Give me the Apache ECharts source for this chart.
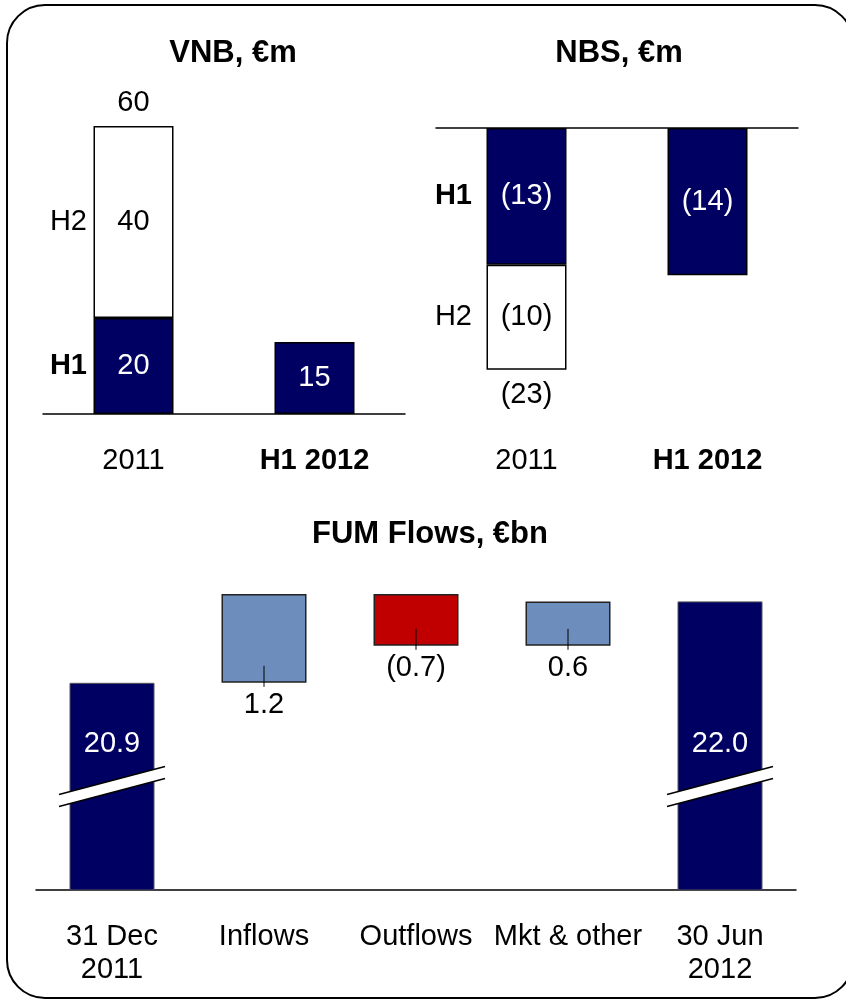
<!DOCTYPE html>
<html>
<head>
<meta charset="utf-8">
<script src="https://cdn.jsdelivr.net/npm/echarts@6/dist/echarts.min.js"></script>
<style>
  html, body { margin: 0; padding: 0; background: #fff; }
  #chart { width: 846px; height: 1000px; }
</style>
</head>
<body>
<div id="chart"></div>
<script>
// VNB, €m
var vnbCats = ['2011', 'H1 2012'];
var vnbH1 = [20, 15];
var vnbH2 = [40, '-'];
var vnbTotal = [60, '-'];

// NBS, €m
var nbsCats = ['2011', 'H1 2012'];
var nbsH1 = [-13, -14];
var nbsH2 = [-10, '-'];
var nbsTotal = [-23, '-'];

// FUM Flows, €bn
var fumCats = ['31 Dec\n2011', 'Inflows', 'Outflows', 'Mkt & other', '30 Jun\n2012'];
var fumOpen = 20.9;
var fumFlows = [1.2, -0.7, 0.6];
var fumClose = 22.0;

var NAVY = '#000062';
var LIGHT = '#6d8ebc';
var RED = '#c00000';
var FONT = '"Liberation Sans", Arial, sans-serif';
var FS = 29;

function fmt(v) {
  return v < 0 ? '(' + (-v) + ')' : String(v);
}

// waterfall pieces built from the flows
var fumBase = ['-'], fumDelta = ['-'], fumTotals = [fumOpen], fumTicks = [];
var run = fumOpen;
fumFlows.forEach(function (f, i) {
  var lo = +(f < 0 ? run + f : run).toFixed(1);
  fumBase.push(lo);
  fumDelta.push(Math.abs(f));
  fumTotals.push('-');
  fumTicks.push([i + 1, lo]);
  run += f;
});
fumBase.push('-'); fumDelta.push('-'); fumTotals.push(fumClose);
var fumBreakAt = 19.5;
var fumBreaks = [[0, fumBreakAt], [fumCats.length - 1, fumBreakAt]];

var chart = echarts.init(document.getElementById('chart'));

var boldRich = { b: { fontWeight: 'bold', fontSize: FS, fontFamily: FONT, color: '#000' } };

function catLabel(margin) {
  return {
    interval: 0, color: '#000', fontSize: FS, fontFamily: FONT, margin: margin, lineHeight: 33,
    formatter: function (v) { return v.indexOf('H1') === 0 ? '{b|' + v + '}' : v; },
    rich: boldRich
  };
}

function sideLabels(h1, h2) {
  return [
    { name: 'H1', value: [0, h1[0] / 2] },
    { name: 'H2', value: [0, h1[0] + h2[0] / 2] }
  ];
}

var hidden = { color: 'rgba(0,0,0,0)', opacity: 1 };

var option = {
  animation: false,
  textStyle: { fontFamily: FONT },
  title: [
    { text: 'VNB, €m', left: 233, top: 38, textAlign: 'center', padding: 0,
      textStyle: { fontSize: 31, fontWeight: 'bold', color: '#000', fontFamily: FONT } },
    { text: 'NBS, €m', left: 619, top: 38, textAlign: 'center', padding: 0,
      textStyle: { fontSize: 31, fontWeight: 'bold', color: '#000', fontFamily: FONT } },
    { text: 'FUM Flows, €bn', left: 430, top: 519, textAlign: 'center', padding: 0,
      textStyle: { fontSize: 31, fontWeight: 'bold', color: '#000', fontFamily: FONT } }
  ],
  graphic: [{
    type: 'rect', z: 100,
    shape: { x: 7, y: 5, width: 846, height: 993, r: 38 },
    style: { fill: 'none', stroke: '#000', lineWidth: 2 }
  }],
  grid: [
    { left: 43, top: 126, width: 362, height: 288 },
    { left: 436, top: 128, width: 362, height: 286 },
    { left: 36, top: 594, width: 760, height: 296 }
  ],
  xAxis: [
    { type: 'category', gridIndex: 0, data: vnbCats,
      axisLine: { lineStyle: { color: '#000', width: 1.5 } }, axisTick: { show: false },
      axisLabel: catLabel(30) },
    { type: 'category', gridIndex: 1, data: nbsCats, position: 'bottom',
      axisLine: { show: false, onZero: false }, axisTick: { show: false },
      axisLabel: catLabel(30) },
    { type: 'category', gridIndex: 1, data: nbsCats, position: 'top',
      axisLine: { show: true, onZero: false, lineStyle: { color: '#000', width: 1.5 } },
      axisTick: { show: false }, axisLabel: { show: false } },
    { type: 'category', gridIndex: 2, data: fumCats,
      axisLine: { onZero: false, lineStyle: { color: '#000', width: 1.5 } }, axisTick: { show: false },
      axisLabel: catLabel(30) }
  ],
  yAxis: [
    { type: 'value', gridIndex: 0, min: 0, max: 60, show: false, splitLine: { show: false } },
    { type: 'value', gridIndex: 1, min: -27.2, max: 0, show: false, splitLine: { show: false } },
    { type: 'value', gridIndex: 2, min: 18.1, max: 22.1, show: false, splitLine: { show: false } }
  ],
  series: [
    // VNB
    { type: 'bar', xAxisIndex: 0, yAxisIndex: 0, stack: 'vnb', data: vnbH1, barWidth: 80,
      itemStyle: { color: NAVY, borderColor: '#000', borderWidth: 1.5 },
      label: { show: true, position: 'inside', color: '#fff', fontSize: FS, formatter: function (p) { return fmt(p.value); } } },
    { type: 'bar', xAxisIndex: 0, yAxisIndex: 0, stack: 'vnb', data: vnbH2, barWidth: 80,
      itemStyle: { color: '#fff', borderColor: '#000', borderWidth: 1.5 },
      label: { show: true, position: 'inside', color: '#000', fontSize: FS, formatter: function (p) { return fmt(p.value); } } },
    { type: 'scatter', xAxisIndex: 0, yAxisIndex: 0, symbolSize: 1, itemStyle: hidden,
      data: vnbTotal.map(function (v, i) { return [i, v]; }),
      label: { show: true, position: 'top', distance: 8, color: '#000', fontSize: FS,
        formatter: function (p) { return fmt(p.value[1]); } } },
    { type: 'scatter', xAxisIndex: 0, yAxisIndex: 0, symbolSize: 1, itemStyle: hidden,
      data: sideLabels(vnbH1, vnbH2),
      label: { show: true, position: 'left', distance: 46, color: '#000', fontSize: FS, rich: boldRich,
        formatter: function (p) { return p.name === 'H1' ? '{b|H1}' : p.name; } } },

    // NBS
    { type: 'bar', xAxisIndex: 1, yAxisIndex: 1, stack: 'nbs', data: nbsH1, barWidth: 80,
      itemStyle: { color: NAVY, borderColor: '#000', borderWidth: 1.5 },
      label: { show: true, position: 'inside', color: '#fff', fontSize: FS, formatter: function (p) { return fmt(p.value); } } },
    { type: 'bar', xAxisIndex: 1, yAxisIndex: 1, stack: 'nbs', data: nbsH2, barWidth: 80,
      itemStyle: { color: '#fff', borderColor: '#000', borderWidth: 1.5 },
      label: { show: true, position: 'inside', color: '#000', fontSize: FS, formatter: function (p) { return fmt(p.value); } } },
    { type: 'scatter', xAxisIndex: 1, yAxisIndex: 1, symbolSize: 1, itemStyle: hidden,
      data: nbsTotal.map(function (v, i) { return [i, v]; }),
      label: { show: true, position: 'bottom', distance: 10, color: '#000', fontSize: FS,
        formatter: function (p) { return fmt(p.value[1]); } } },
    { type: 'scatter', xAxisIndex: 1, yAxisIndex: 1, symbolSize: 1, itemStyle: hidden,
      data: sideLabels(nbsH1, nbsH2),
      label: { show: true, position: 'left', distance: 54, color: '#000', fontSize: FS, rich: boldRich,
        formatter: function (p) { return p.name === 'H1' ? '{b|H1}' : p.name; } } },

    // FUM waterfall
    { type: 'bar', xAxisIndex: 3, yAxisIndex: 2, stack: 'fum', data: fumBase, barWidth: 85,
      itemStyle: { color: 'rgba(0,0,0,0)', borderWidth: 0 }, silent: true },
    { type: 'bar', xAxisIndex: 3, yAxisIndex: 2, stack: 'fum', data: fumDelta, barWidth: 85,
      itemStyle: {
        borderColor: '#222', borderWidth: 1.5,
        color: function (p) { return fumFlows[p.dataIndex - 1] < 0 ? RED : LIGHT; }
      },
      label: { show: true, position: 'bottom', distance: 8, color: '#000', fontSize: FS,
        formatter: function (p) {
          var f = fumFlows[p.dataIndex - 1];
          return f < 0 ? '(' + (-f).toFixed(1) + ')' : f.toFixed(1);
        } } },
    { type: 'bar', xAxisIndex: 3, yAxisIndex: 2, data: fumTotals, barWidth: 85, barGap: '-100%',
      itemStyle: { color: NAVY, borderColor: '#555', borderWidth: 1 },
      label: { show: true, position: 'insideBottom', distance: 132, color: '#fff', fontSize: FS,
        formatter: function (p) { return p.value.toFixed(1); } } },
    { type: 'custom', xAxisIndex: 3, yAxisIndex: 2, z: 5, data: fumTicks,
      renderItem: function (params, api) {
        var c = api.coord([api.value(0), api.value(1)]);
        return { type: 'line', shape: { x1: c[0], y1: c[1] + 4, x2: c[0], y2: c[1] - 17 },
          style: { stroke: '#000', lineWidth: 1 } };
      } },
    { type: 'custom', xAxisIndex: 3, yAxisIndex: 2, z: 6, data: fumBreaks,
      renderItem: function (params, api) {
        var c = api.coord([api.value(0), api.value(1)]);
        var hw = 53, rise = 14, th = 6;
        var x1 = c[0] - hw, x2 = c[0] + hw;
        return {
          type: 'group',
          children: [
            { type: 'polygon', shape: { points: [[x1, c[1] + rise - th], [x2, c[1] - rise - th], [x2, c[1] - rise + th], [x1, c[1] + rise + th]] },
              style: { fill: '#fff' } },
            { type: 'line', shape: { x1: x1, y1: c[1] + rise - th, x2: x2, y2: c[1] - rise - th },
              style: { stroke: '#000', lineWidth: 1.5 } },
            { type: 'line', shape: { x1: x1, y1: c[1] + rise + th, x2: x2, y2: c[1] - rise + th },
              style: { stroke: '#000', lineWidth: 1.5 } }
          ]
        };
      } }
  ]
};

chart.setOption(option);
</script>
</body>
</html>
